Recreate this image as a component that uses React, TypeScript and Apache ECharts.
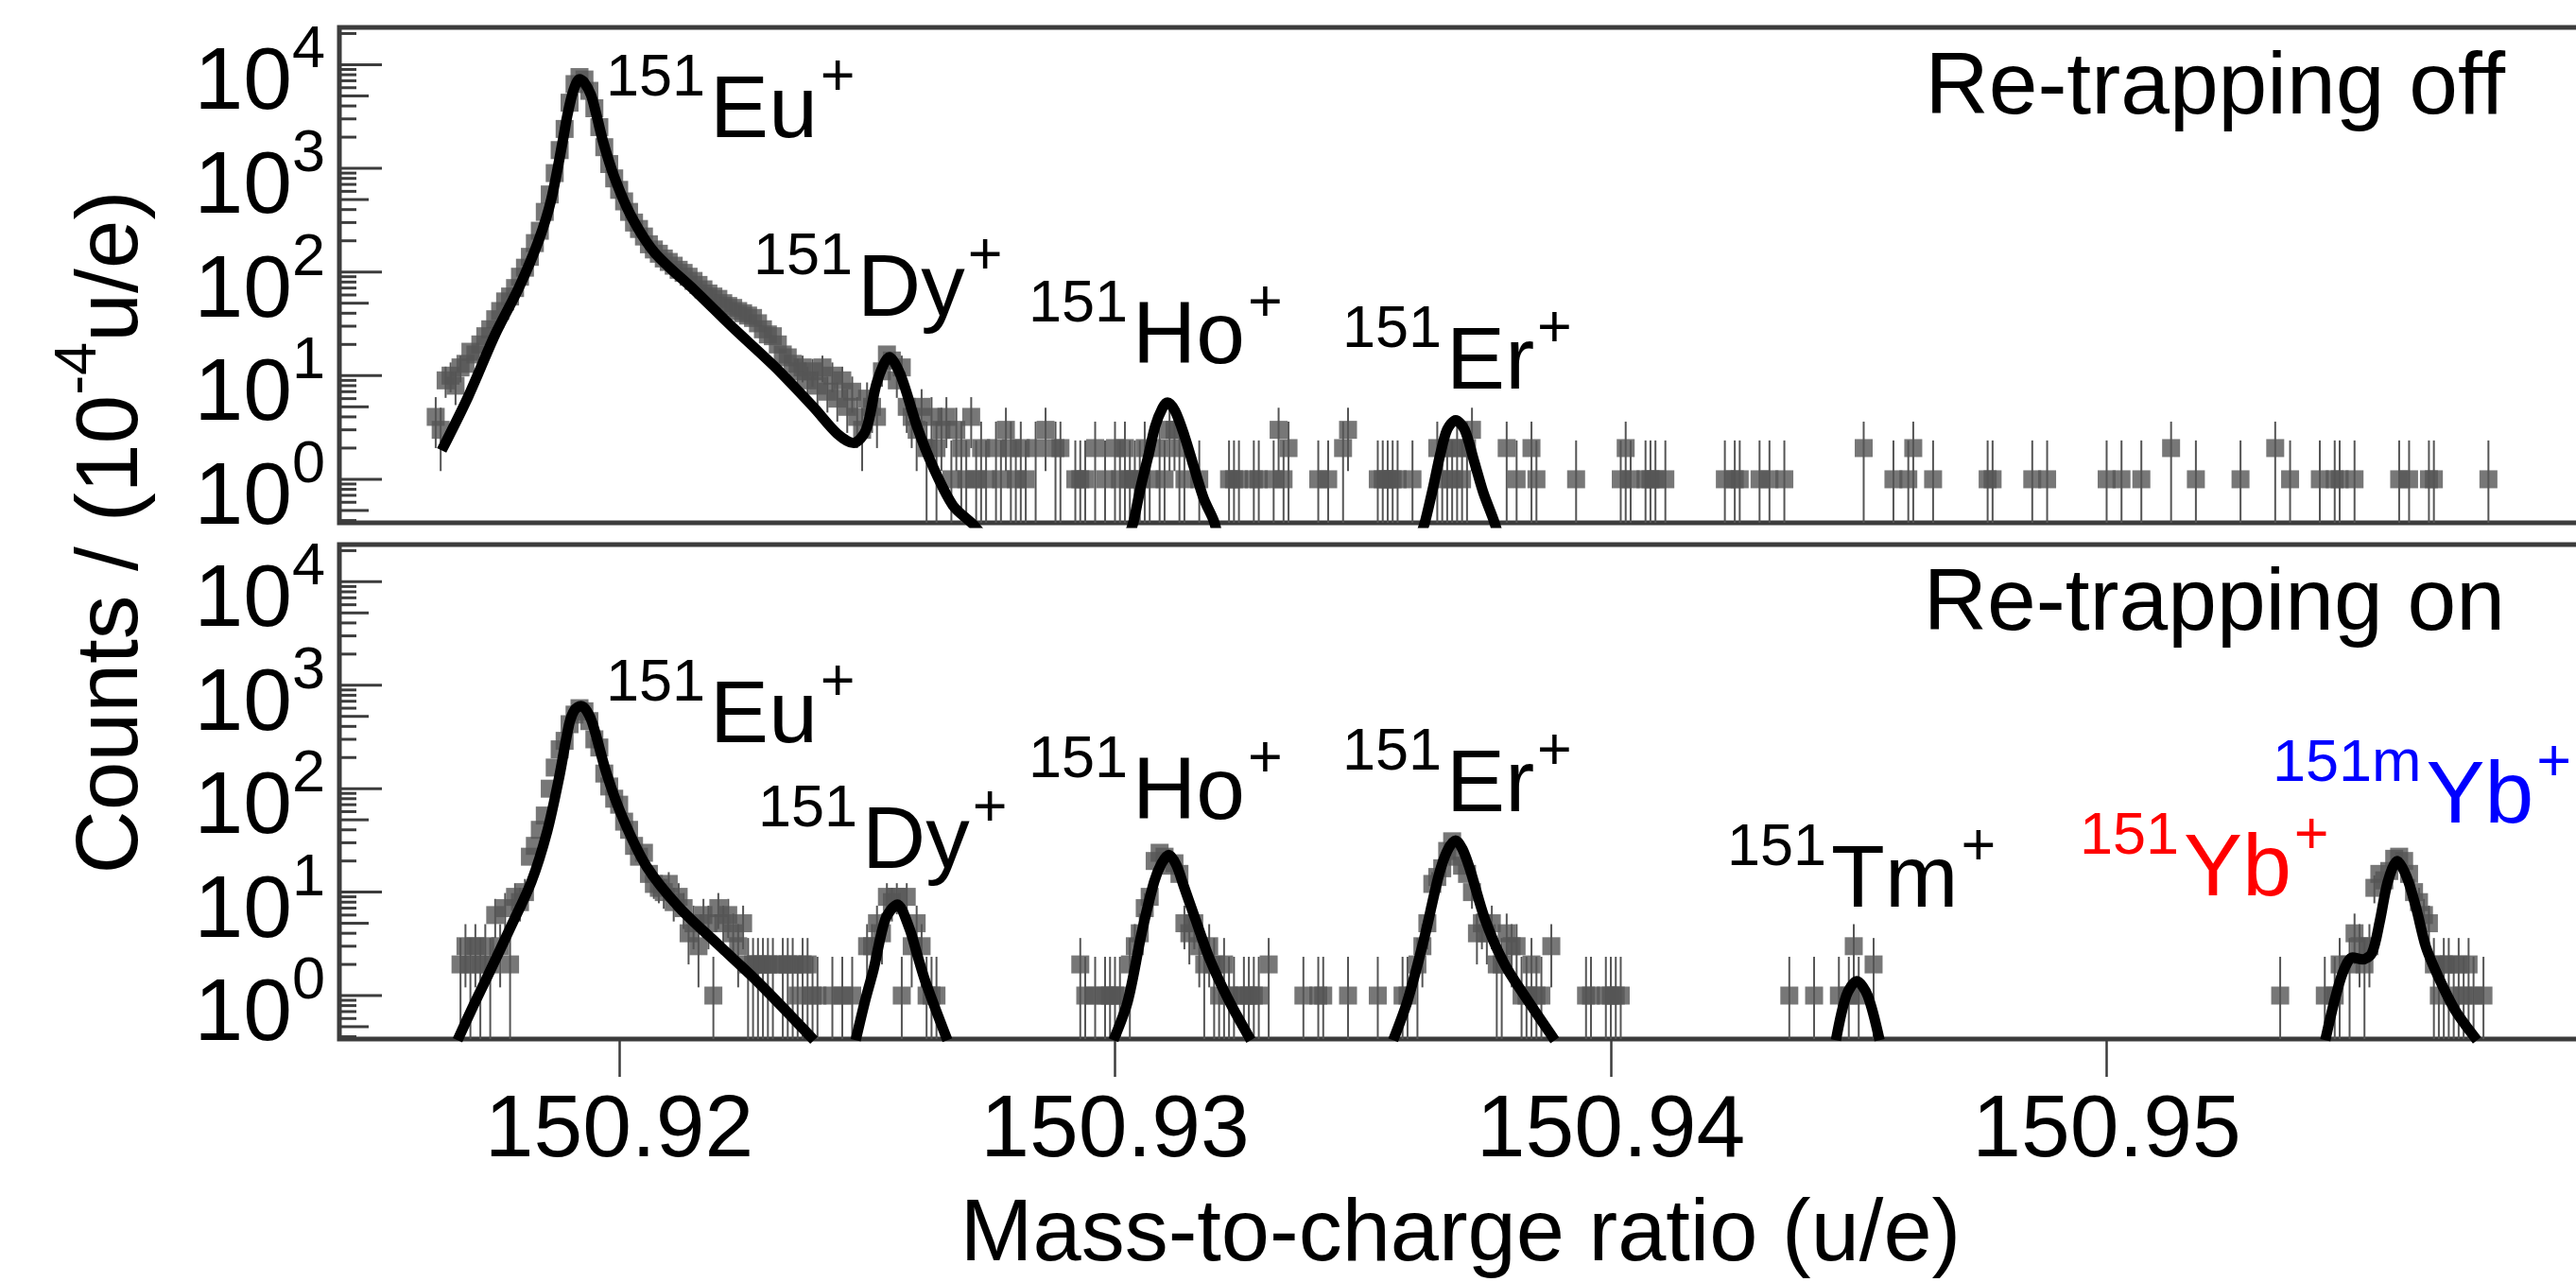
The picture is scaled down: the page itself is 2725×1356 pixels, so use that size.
import React, { useEffect, useRef } from "react";
import * as echarts from "echarts";

// ---------- axis ranges & ticks ----------
const X_MIN = 150.914357;
const X_MAX = 150.959657;
const Y_MIN = 0.38;
const Y_MAX = 22900;
const X_TICKS = [150.92, 150.93, 150.94, 150.95];
const Y_DECADES = [-1, 0, 1, 2, 3, 4];
const Y_MANTISSAS = [1, 2, 3, 4, 5, 6, 7, 8, 9];

// ---------- error bars (lower / upper) read per count ----------
const ERR_LOW = [0, 0.0, 0.3, 1.2, 2.0, 2.8, 3.6, 4.4, 5.2, 6.1, 6.9, 7.8, 8.6];
const ERR_HIGH = [0, 2.37, 3.6, 4.9, 6.2, 7.4, 8.6, 9.8, 11, 12.2, 13.4, 14.5, 15.6];

// ---------- Re-trapping off : [mass, counts] ----------
const TOP_POINTS = [
  [150.9163, 4], [150.9164, 3], [150.9165, 9], [150.9166, 10], [150.9167, 8], [150.9168, 12], [150.9169, 13],
  [150.917, 17], [150.9171, 16], [150.9172, 20], [150.9173, 24], [150.9174, 28], [150.9175, 35], [150.9176, 42],
  [150.9177, 52], [150.9178, 58], [150.9179, 70], [150.918, 90], [150.9181, 110], [150.9182, 140], [150.9183, 190],
  [150.9184, 250], [150.9185, 380], [150.9186, 560], [150.9187, 900], [150.9188, 1500], [150.9189, 2400],
  [150.919, 4300], [150.9191, 6500], [150.9192, 7600], [150.9193, 7200], [150.9194, 5600], [150.9195, 3800],
  [150.9196, 2500], [150.9197, 1600], [150.9198, 1100], [150.9199, 800], [150.92, 620], [150.9201, 480],
  [150.9202, 380], [150.9203, 300], [150.9204, 260], [150.9205, 220], [150.9206, 185], [150.9207, 165],
  [150.9208, 150], [150.9209, 135], [150.921, 125], [150.9211, 115], [150.9212, 105], [150.9213, 98],
  [150.9214, 90], [150.9215, 82], [150.9216, 75], [150.9217, 68], [150.9218, 62], [150.9219, 58], [150.922, 55],
  [150.9221, 50], [150.9222, 47], [150.9223, 45], [150.9224, 42], [150.9225, 40], [150.9226, 38], [150.9227, 36],
  [150.9228, 32], [150.9229, 28], [150.923, 25], [150.9231, 24], [150.9232, 20], [150.9233, 16], [150.9234, 15],
  [150.9235, 13], [150.9236, 11], [150.9237, 12], [150.9238, 9], [150.9239, 11], [150.924, 8], [150.9241, 12],
  [150.9242, 7], [150.9243, 10], [150.9244, 6], [150.9245, 9], [150.9246, 5], [150.9247, 7], [150.9248, 4],
  [150.9249, 3], [150.925, 6], [150.9251, 5], [150.9252, 4], [150.9253, 11], [150.9254, 16], [150.9255, 14],
  [150.9256, 9], [150.9257, 12], [150.9258, 5], [150.9259, 4], [150.926, 3], [150.9261, 5], [150.9262, 2],
  [150.9263, 4], [150.9264, 2], [150.9265, 3], [150.9266, 4], [150.9267, 1], [150.9268, 3], [150.9269, 2],
  [150.927, 1], [150.9271, 4], [150.9272, 1], [150.9273, 2], [150.9274, 1], [150.9276, 2], [150.9277, 1],
  [150.9278, 3], [150.9279, 2], [150.928, 1], [150.9281, 2], [150.9282, 1], [150.9284, 2], [150.9286, 3],
  [150.9288, 2], [150.9289, 2], [150.9292, 1], [150.9293, 1], [150.9294, 1], [150.9296, 2], [150.9298, 1],
  [150.93, 2], [150.9301, 1], [150.9302, 2], [150.9303, 1], [150.9304, 1], [150.9305, 1], [150.9306, 2],
  [150.9307, 1], [150.9309, 2], [150.931, 1], [150.9311, 3], [150.9312, 3], [150.9313, 2], [150.9314, 1],
  [150.9317, 1], [150.9323, 1], [150.9324, 1], [150.9325, 1], [150.9328, 1], [150.9329, 1], [150.9332, 1],
  [150.9333, 3], [150.9334, 1], [150.9335, 2], [150.9341, 1], [150.9343, 1], [150.9346, 2], [150.9347, 3],
  [150.9353, 1], [150.9354, 1], [150.9355, 1], [150.9356, 1], [150.9357, 1], [150.936, 1], [150.9365, 2],
  [150.9366, 1], [150.9367, 2], [150.9368, 1], [150.9369, 2], [150.937, 1], [150.9371, 2], [150.9372, 3],
  [150.9379, 2], [150.9381, 1], [150.9384, 2], [150.9385, 1], [150.9393, 1], [150.9402, 1], [150.9403, 2],
  [150.9404, 1], [150.9407, 1], [150.9408, 1], [150.9409, 1], [150.9411, 1], [150.9423, 1], [150.9425, 1],
  [150.9426, 1], [150.943, 1], [150.9432, 1], [150.9435, 1], [150.9451, 2], [150.9457, 1], [150.946, 1],
  [150.9461, 2], [150.9465, 1], [150.9476, 1], [150.9477, 1], [150.9485, 1], [150.9488, 1], [150.95, 1],
  [150.9503, 1], [150.9507, 1], [150.9513, 2], [150.9518, 1], [150.9527, 1], [150.9534, 2], [150.9537, 1],
  [150.9543, 1], [150.9546, 1], [150.9547, 1], [150.955, 1], [150.9559, 1], [150.9561, 1], [150.9565, 1],
  [150.9566, 1], [150.9577, 1],
];

// ---------- Re-trapping on : [mass, counts] ----------
const BOTTOM_POINTS = [
  [150.9168, 2], [150.9169, 3], [150.917, 2], [150.9171, 3], [150.9172, 2], [150.9173, 3], [150.9174, 2],
  [150.9175, 6], [150.9176, 3], [150.9177, 7], [150.9178, 2], [150.9179, 9], [150.918, 8], [150.9181, 10],
  [150.9182, 22], [150.9183, 28], [150.9184, 40], [150.9185, 55], [150.9186, 100], [150.9187, 160],
  [150.9188, 240], [150.9189, 290], [150.919, 420], [150.9191, 520], [150.9192, 600], [150.9193, 560],
  [150.9194, 450], [150.9195, 300], [150.9196, 250], [150.9197, 140], [150.9198, 105], [150.9199, 80],
  [150.92, 70], [150.9201, 48], [150.9202, 40], [150.9203, 28], [150.9204, 22], [150.9205, 24], [150.9206, 15],
  [150.9207, 12], [150.9208, 11], [150.9209, 10], [150.921, 12], [150.9211, 8], [150.9212, 9], [150.9213, 7],
  [150.9214, 4], [150.9215, 5], [150.9216, 3], [150.9217, 6], [150.9218, 5], [150.9219, 1], [150.922, 7],
  [150.9221, 5], [150.9222, 6], [150.9223, 4], [150.9224, 3], [150.9225, 5], [150.9226, 2], [150.9227, 2],
  [150.9228, 2], [150.9229, 2], [150.923, 2], [150.9231, 2], [150.9233, 2], [150.9234, 2], [150.9235, 2],
  [150.9236, 1], [150.9237, 2], [150.9238, 2], [150.9239, 1], [150.924, 1], [150.9243, 1], [150.9245, 1],
  [150.9247, 1],
  [150.925, 3], [150.9251, 3], [150.9252, 5], [150.9253, 4], [150.9254, 9], [150.9255, 8], [150.9256, 9],
  [150.9257, 1], [150.9258, 9], [150.9259, 3], [150.926, 5], [150.9261, 3], [150.9262, 1], [150.9263, 1],
  [150.9264, 1],
  [150.9293, 2], [150.9294, 1], [150.9296, 1], [150.9298, 1], [150.9299, 1], [150.93, 1], [150.9301, 1],
  [150.9303, 2], [150.9304, 3], [150.9305, 4], [150.9306, 7], [150.9307, 9], [150.9308, 20], [150.9309, 24],
  [150.931, 22], [150.9311, 18], [150.9312, 19], [150.9313, 15], [150.9314, 5], [150.9315, 4], [150.9316, 5],
  [150.9317, 3], [150.9318, 2], [150.9319, 3], [150.932, 2], [150.9321, 1], [150.9322, 2], [150.9323, 1],
  [150.9324, 1], [150.9326, 1], [150.9327, 1], [150.9328, 1], [150.9329, 1], [150.9331, 2], [150.9338, 1],
  [150.9341, 1], [150.9342, 1], [150.9347, 1], [150.9353, 1], [150.9358, 1], [150.9359, 1],
  [150.9361, 2], [150.9362, 3], [150.9363, 5], [150.9364, 12], [150.9365, 14], [150.9366, 17], [150.9367, 25],
  [150.9368, 31], [150.9369, 22], [150.937, 18], [150.9371, 15], [150.9372, 10], [150.9373, 4], [150.9374, 5],
  [150.9375, 4], [150.9376, 5], [150.9377, 2], [150.9378, 2], [150.9379, 4], [150.938, 3], [150.9381, 3],
  [150.9382, 1], [150.9383, 1], [150.9384, 2], [150.9385, 1], [150.9386, 1], [150.9388, 3], [150.9395, 1],
  [150.9396, 1], [150.9399, 1], [150.94, 1], [150.9401, 1], [150.9402, 1],
  [150.9436, 1], [150.9441, 1], [150.9446, 1], [150.9448, 1], [150.9449, 3], [150.945, 1], [150.9453, 2],
  [150.9535, 1], [150.9544, 1], [150.9546, 1], [150.9547, 2], [150.9549, 2], [150.955, 4], [150.9551, 3],
  [150.9552, 2], [150.9553, 3], [150.9554, 11], [150.9555, 15], [150.9556, 13], [150.9557, 16], [150.9558, 21],
  [150.9559, 22], [150.956, 20], [150.9561, 15], [150.9562, 10], [150.9563, 8], [150.9564, 6], [150.9565, 5],
  [150.9566, 2], [150.9567, 1], [150.9568, 2], [150.9569, 2], [150.957, 1], [150.9571, 2], [150.9572, 1],
  [150.9573, 2], [150.9574, 1], [150.9576, 1],
];

// ---------- fit curves ----------
const TOP_FIT_EU_DY = [
  [150.91642, 1.9], [150.91695, 6.2], [150.9175, 25], [150.91798, 71], [150.91838, 204], [150.91863, 500],
  [150.91888, 2040], [150.91895, 3160], [150.91907, 5500], [150.9192, 7240], [150.91928, 6900], [150.91943, 5130],
  [150.91954, 3300], [150.91968, 1780], [150.9199, 830], [150.92023, 355], [150.92071, 155], [150.92153, 66],
  [150.92233, 28], [150.92313, 12.3], [150.92393, 4.9], [150.9244, 2.75], [150.92473, 2.24], [150.92498, 3.0],
  [150.9252, 8.7], [150.92545, 15.1], [150.92568, 10], [150.92601, 3.2], [150.92633, 1.32], [150.92673, 0.56],
  [150.92713, 0.37], [150.92734, 0.28],
];
const TOP_FIT_HO = [
  [150.9303, 0.3], [150.93038, 0.4], [150.93052, 0.85], [150.93068, 1.74], [150.93081, 3.24], [150.93096, 4.9],
  [150.93106, 5.5], [150.93121, 4.57], [150.9314, 2.63], [150.93159, 1.32], [150.93179, 0.65], [150.93199, 0.4],
  [150.93206, 0.3],
];
const TOP_FIT_ER = [
  [150.93618, 0.3], [150.93626, 0.4], [150.93642, 0.85], [150.93656, 1.74], [150.9367, 3.02], [150.93687, 3.72],
  [150.93705, 3.02], [150.93724, 1.51], [150.93743, 0.74], [150.93764, 0.4], [150.93772, 0.3],
];
const BOTTOM_FIT_EU = [
  [150.91674, 0.37], [150.91705, 0.78], [150.91735, 1.55], [150.91783, 4.8], [150.91823, 12.6], [150.91855, 38.9],
  [150.91879, 129], [150.91899, 417], [150.9191, 575], [150.91923, 631], [150.91935, 562], [150.91947, 417],
  [150.91975, 138], [150.92008, 51], [150.92055, 17.8], [150.9212, 7.2], [150.922, 3.1], [150.9228, 1.35],
  [150.92393, 0.37],
];
const BOTTOM_FIT_DY = [
  [150.92477, 0.37], [150.92496, 0.89], [150.92513, 1.78], [150.92537, 5.5], [150.92561, 7.6], [150.92585, 4.5],
  [150.92601, 2.5], [150.92618, 1.35], [150.92662, 0.37],
];
const BOTTOM_FIT_HO = [
  [150.92997, 0.37], [150.93026, 0.89], [150.93054, 4.07], [150.93079, 12.6], [150.93094, 19], [150.93109, 22.9],
  [150.93124, 18.2], [150.93138, 11.7], [150.93162, 5.5], [150.93192, 2.19], [150.9323, 0.89], [150.93274, 0.37],
];
const BOTTOM_FIT_ER = [
  [150.93561, 0.37], [150.9359, 0.89], [150.93624, 3.63], [150.93653, 14.5], [150.9367, 25], [150.93687, 31.6],
  [150.93701, 26], [150.93716, 16.6], [150.93746, 5.5], [150.93785, 2.04], [150.93833, 0.89], [150.93887, 0.37],
];
const BOTTOM_FIT_TM = [
  [150.94454, 0.37], [150.94475, 1.0], [150.94496, 1.38], [150.94518, 1.0], [150.94542, 0.37],
];
const BOTTOM_FIT_YB = [
  [150.95441, 0.37], [150.95458, 0.83], [150.95477, 1.7], [150.95496, 2.34], [150.95516, 2.24], [150.95535, 2.57],
  [150.95551, 5.25], [150.95567, 12.6], [150.95586, 20], [150.95605, 14.1], [150.95624, 7.1], [150.95644, 2.95],
  [150.9567, 1.48], [150.95703, 0.72], [150.95747, 0.37],
];

// ---------- texts ----------
const PANEL_TITLES = ["Re-trapping off", "Re-trapping on"];
const PEAK_LABELS = [
  { sup: "151", name: "Eu", color: "#000000", x: 641, y: 47 },
  { sup: "151", name: "Dy", color: "#000000", x: 797, y: 236 },
  { sup: "151", name: "Ho", color: "#000000", x: 1088, y: 286 },
  { sup: "151", name: "Er", color: "#000000", x: 1420, y: 313 },
  { sup: "151", name: "Eu", color: "#000000", x: 641, y: 687 },
  { sup: "151", name: "Dy", color: "#000000", x: 802, y: 820 },
  { sup: "151", name: "Ho", color: "#000000", x: 1088, y: 768 },
  { sup: "151", name: "Er", color: "#000000", x: 1420, y: 760 },
  { sup: "151", name: "Tm", color: "#000000", x: 1827, y: 861 },
  { sup: "151", name: "Yb", color: "#ff0000", x: 2200, y: 849 },
  { sup: "151m", name: "Yb", color: "#0000ff", x: 2404, y: 772 },
];

const FONT = "Liberation Sans, Arial, Helvetica, sans-serif";
const GREY = "#555555";
const FRAME = "#3c3c3c";
const BIG = 93;
const SMALL = 63;

const GRIDS = [
  { left: 359, top: 29, width: 2376, height: 524 },
  { left: 359, top: 576, width: 2376, height: 523 },
];

function richFor(color: string) {
  return {
    s: { fontSize: SMALL, fontFamily: FONT, fill: color, color, lineHeight: SMALL, verticalAlign: "top", padding: [0, 5, 0, 0] },
    m: { fontSize: BIG, fontFamily: FONT, fill: color, color, lineHeight: 112, verticalAlign: "bottom" },
    p: { fontSize: SMALL, fontFamily: FONT, fill: color, color, lineHeight: SMALL, verticalAlign: "top", padding: [0, 0, 0, 3] },
  };
}

function buildOption() {
  const tickValues: number[][] = [];
  Y_DECADES.forEach((d) =>
    Y_MANTISSAS.forEach((m) => {
      const v = m * Math.pow(10, d);
      if (v >= Y_MIN && v <= Y_MAX) tickValues.push([X_MIN, v]);
    })
  );

  const errSeries = (data: number[][], idx: number) => ({
    type: "custom",
    xAxisIndex: idx,
    yAxisIndex: idx,
    data,
    silent: true,
    z: 1,
    clip: true,
    renderItem: (params: any, api: any) => {
      const x = api.value(0);
      const n = api.value(1);
      const hi = ERR_HIGH[n];
      if (hi === undefined) return { type: "group", children: [] };
      const lo = ERR_LOW[n];
      const a = api.coord([x, Math.max(lo, Y_MIN)]);
      const b = api.coord([x, Math.min(hi, Y_MAX)]);
      return {
        type: "line",
        shape: { x1: a[0], y1: a[1], x2: b[0], y2: b[1] },
        style: { stroke: GREY, lineWidth: 2 },
      };
    },
  });

  const pointSeries = (data: number[][], idx: number) => ({
    type: "scatter",
    xAxisIndex: idx,
    yAxisIndex: idx,
    data,
    symbol: "rect",
    symbolSize: 19,
    itemStyle: { color: GREY },
    silent: true,
    z: 2,
  });

  const fitSeries = (data: number[][], idx: number) => ({
    type: "line",
    xAxisIndex: idx,
    yAxisIndex: idx,
    data,
    showSymbol: false,
    symbol: "none",
    smooth: 0.3,
    clip: true,
    lineStyle: { color: "#000000", width: 11 },
    silent: true,
    z: 4,
  });

  const tickSeries = (idx: number) => ({
    type: "custom",
    xAxisIndex: idx,
    yAxisIndex: idx,
    data: tickValues,
    silent: true,
    z: 5,
    renderItem: (params: any, api: any) => {
      const v = api.value(1);
      const e = Math.floor(Math.log10(v) + 1e-9);
      const m = Math.round(v / Math.pow(10, e));
      const len = m === 1 ? 45 : m === 5 ? 31 : 18;
      const p = api.coord([api.value(0), v]);
      return {
        type: "line",
        shape: { x1: p[0], y1: p[1], x2: p[0] + len, y2: p[1] },
        style: { stroke: FRAME, lineWidth: 3 },
      };
    },
  });

  const yAxis = (idx: number) => ({
    type: "log",
    logBase: 10,
    gridIndex: idx,
    min: Y_MIN,
    max: Y_MAX,
    axisLine: { show: false },
    axisTick: { show: false },
    splitLine: { show: false },
    minorTick: { show: false },
    axisLabel: {
      show: true,
      margin: 15,
      padding: [11, 0, 0, 0],
      formatter: (v: number) => {
        const e = Math.log10(v);
        const r = Math.round(e);
        if (Math.abs(e - r) > 1e-6) return "";
        return `{b|10}{s|${r}}`;
      },
      rich: {
        b: { fontSize: BIG, fontFamily: FONT, color: "#000", lineHeight: 112, verticalAlign: "bottom" },
        s: { fontSize: SMALL, fontFamily: FONT, color: "#000", lineHeight: SMALL, verticalAlign: "top" },
      },
    },
  });

  const graphic: any[] = [];
  PEAK_LABELS.forEach((L) => {
    graphic.push({
      type: "text",
      x: L.x,
      y: L.y,
      z: 100,
      silent: true,
      style: {
        text: `{s|${L.sup}}{m|${L.name}}{p|+}`,
        rich: richFor(L.color),
        fill: L.color,
        align: "left",
        verticalAlign: "top",
      },
    });
  });
  PANEL_TITLES.forEach((t, i) => {
    graphic.push({
      type: "text",
      x: 2650,
      y: i === 0 ? 88 : 634,
      z: 100,
      silent: true,
      style: { text: t, fontSize: BIG, fontFamily: FONT, fill: "#000", align: "right", verticalAlign: "middle" },
    });
  });
  graphic.push({
    type: "text",
    x: 1545,
    y: 1301,
    z: 100,
    silent: true,
    style: {
      text: "Mass-to-charge ratio (u/e)",
      fontSize: 92,
      fontFamily: FONT,
      fill: "#000",
      align: "center",
      verticalAlign: "middle",
    },
  });
  graphic.push({
    type: "group",
    x: 103,
    y: 563,
    rotation: Math.PI / 2,
    z: 100,
    silent: true,
    children: [
      {
        type: "text",
        style: {
          text: "{m|Counts / (10}{s|-4}{m|u/e)}",
          rich: {
            m: { fontSize: BIG, fontFamily: FONT, fill: "#000", lineHeight: 112, verticalAlign: "bottom" },
            s: { fontSize: SMALL, fontFamily: FONT, fill: "#000", lineHeight: SMALL, verticalAlign: "top" },
          },
          fill: "#000",
          align: "center",
          verticalAlign: "middle",
        },
      },
    ],
  });

  return {
    animation: false,
    backgroundColor: "#ffffff",
    grid: GRIDS.map((g) => ({
      ...g,
      show: true,
      borderColor: FRAME,
      borderWidth: 5,
      backgroundColor: "transparent",
      containLabel: false,
      outerBoundsMode: "none",
    })),
    xAxis: [
      { type: "value", gridIndex: 0, min: X_MIN, max: X_MAX, show: false, splitLine: { show: false } },
      {
        type: "value",
        gridIndex: 1,
        min: X_MIN,
        max: X_MAX,
        axisLine: { show: false },
        splitLine: { show: false },
        axisTick: {
          show: true,
          inside: false,
          length: 40,
          customValues: X_TICKS,
          lineStyle: { color: FRAME, width: 2.5 },
        },
        axisLabel: {
          show: true,
          customValues: X_TICKS,
          margin: 92,
          verticalAlign: "middle",
          fontSize: BIG,
          fontFamily: FONT,
          color: "#000",
          formatter: (v: number) => v.toFixed(2),
        },
      },
    ],
    yAxis: [yAxis(0), yAxis(1)],
    series: [
      errSeries(TOP_POINTS, 0),
      pointSeries(TOP_POINTS, 0),
      fitSeries(TOP_FIT_EU_DY, 0),
      fitSeries(TOP_FIT_HO, 0),
      fitSeries(TOP_FIT_ER, 0),
      tickSeries(0),
      errSeries(BOTTOM_POINTS, 1),
      pointSeries(BOTTOM_POINTS, 1),
      fitSeries(BOTTOM_FIT_EU, 1),
      fitSeries(BOTTOM_FIT_DY, 1),
      fitSeries(BOTTOM_FIT_HO, 1),
      fitSeries(BOTTOM_FIT_ER, 1),
      fitSeries(BOTTOM_FIT_TM, 1),
      fitSeries(BOTTOM_FIT_YB, 1),
      tickSeries(1),
    ],
    graphic,
  };
}

export default function App() {
  const ref = useRef<HTMLDivElement>(null);
  useEffect(() => {
    if (!ref.current) return;
    const chart = echarts.init(ref.current, null, { renderer: "svg" });
    chart.setOption(buildOption() as any);
    return () => chart.dispose();
  }, []);
  return (
    <div
      ref={ref}
      style={{ position: "fixed", left: 0, top: 0, width: 2725, height: 1356, background: "#ffffff" }}
    />
  );
}
